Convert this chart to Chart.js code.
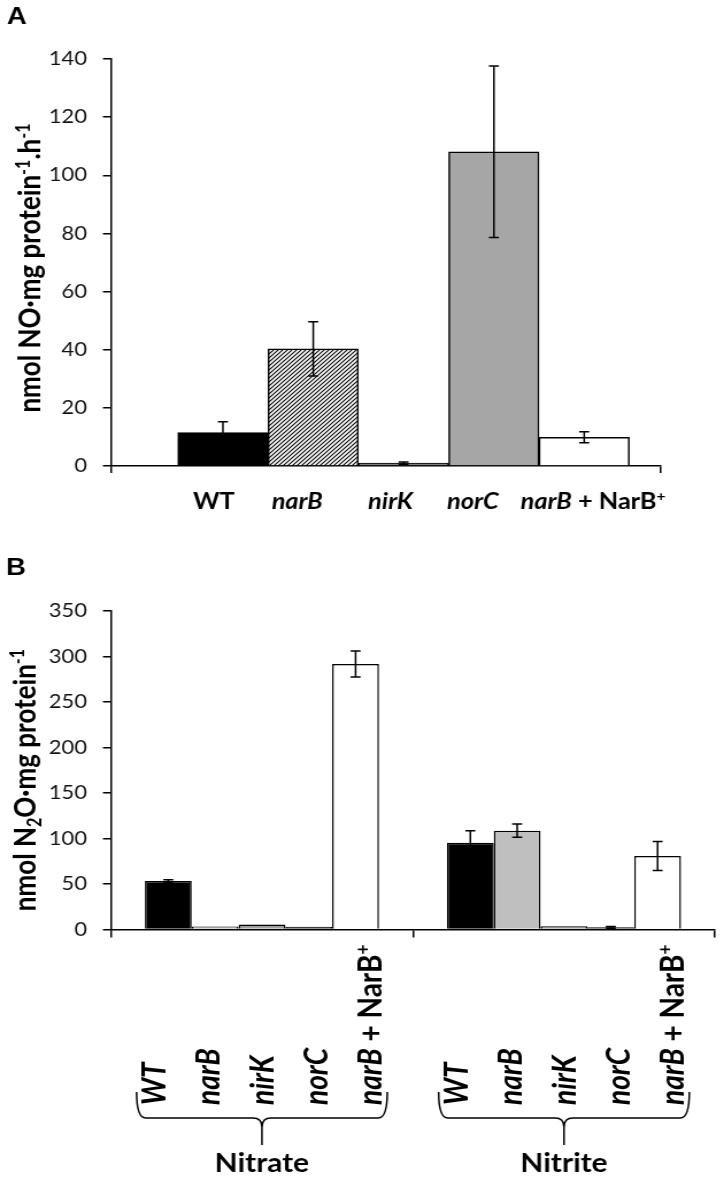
<!DOCTYPE html>
<html><head><meta charset="utf-8">
<script src="https://cdn.jsdelivr.net/npm/chart.js@4.4.0/dist/chart.umd.min.js"></script>
<style>
html,body{margin:0;padding:0;background:#fff;}
#wrap{position:relative;width:724px;height:1177px;overflow:hidden;background:#fff;}
canvas{position:absolute;left:0;}
</style></head><body>
<div id="wrap">
<canvas id="cA" style="top:0;width:724px;height:540px"></canvas>
<canvas id="cB" style="top:540px;width:724px;height:637px"></canvas>
</div>
<script>
// ---------------- data ----------------
// Panel A: NO production
const strainsA = ['WT', 'narB', 'nirK', 'norC', 'narB + NarB+'];
const noRate   = [11.5, 40.3, 1.0, 108.1, 9.9];
const noErr    = [3.7, 9.3, 0.4, 29.5, 1.9];
const yTicksA  = [0, 20, 40, 60, 80, 100, 120, 140];

// Panel B: N2O production
const substrates = ['Nitrate', 'Nitrite'];
const strainsB   = ['WT', 'narB', 'nirK', 'norC', 'narB + NarB+'];
const n2oWT    = [53.3, 95.4];
const n2oNarB  = [3.3, 108.6];
const n2oNirK  = [5.5, 3.5];
const n2oNorC  = [3.0, 2.4];
const n2oComp  = [291.8, 80.8];
const errWT    = [1.5, 13.2];
const errNarB  = [0, 7.3];
const errNirK  = [0, 0];
const errNorC  = [0, 1.0];
const errComp  = [14.2, 16.0];
const yTicksB  = [0, 50, 100, 150, 200, 250, 300, 350];

// ---------------- setup ----------------
const S = 1.15;               // horizontal stretch of the reference figure
const FONT = 'Lato';
const W = Math.round(724 / S);
const labelShiftA = [-9, -16, -13, -21, 9];   // text-box offsets of the panel A labels (px)

const cA = document.getElementById('cA');
const cB = document.getElementById('cB');
cA.width = W; cA.height = 540;
cB.width = W; cB.height = 637;

function drawRuns(ctx, runs, x, y, size, align) {
  let total = 0;
  const info = runs.map(r => {
    const s = (r.sup || r.sub) ? size * 0.62 : size;
    const f = (r.it ? 'italic ' : '') + 'bold ' + s + 'px ' + FONT;
    ctx.font = f;
    const w = ctx.measureText(r.t).width;
    total += w;
    return { f, w, dy: r.sup ? -size * 0.38 : (r.sub ? size * 0.2 : 0) };
  });
  let cx = align === 'center' ? x - total / 2 : x;
  ctx.textAlign = 'left';
  ctx.textBaseline = 'alphabetic';
  runs.forEach((r, i) => {
    ctx.font = info[i].f;
    ctx.fillText(r.t, cx, y + info[i].dy);
    cx += info[i].w;
  });
}
function labelRuns(lbl, italicWT) {
  const m = lbl.match(/^(\S+) \+ (\S+)\+$/);
  if (m) return [{ t: m[1], it: true }, { t: ' + ' + m[2] }, { t: '+', sup: true }];
  return [{ t: lbl, it: lbl !== 'WT' || italicWT }];
}
function hatchPattern(ctx) {
  const c = document.createElement('canvas');
  c.width = 4; c.height = 4;
  const g = c.getContext('2d');
  g.fillStyle = '#fff'; g.fillRect(0, 0, 4, 4);
  g.strokeStyle = '#000'; g.lineWidth = 1.1;
  g.beginPath();
  g.moveTo(-1, 5); g.lineTo(5, -1);
  g.moveTo(-1, 1); g.lineTo(1, -1);
  g.moveTo(3, 5); g.lineTo(5, 3);
  g.stroke();
  return ctx.createPattern(c, 'repeat');
}

const errorBars = {
  id: 'errorBars',
  afterDatasetsDraw(chart) {
    const ctx = chart.ctx, ys = chart.scales.y;
    ctx.save();
    ctx.strokeStyle = '#000'; ctx.lineWidth = 1.5;
    chart.data.datasets.forEach((ds, di) => {
      const meta = chart.getDatasetMeta(di);
      (ds.errors || []).forEach((e, i) => {
        if (!e) return;
        const d = ds.data[i];
        const v = (typeof d === 'object') ? d.y : d;
        const bar = meta.data[i];
        const yt = ys.getPixelForValue(v + e), yb = ys.getPixelForValue(v - e);
        const cw = 5 / S;
        ctx.beginPath();
        ctx.moveTo(bar.x, yt); ctx.lineTo(bar.x, yb);
        ctx.moveTo(bar.x - cw, yt); ctx.lineTo(bar.x + cw, yt);
        ctx.moveTo(bar.x - cw, yb); ctx.lineTo(bar.x + cw, yb);
        ctx.stroke();
      });
    });
    ctx.restore();
  }
};

// ---------------- panel A ----------------
const textA = {
  id: 'textA',
  afterDraw(chart) {
    const ctx = chart.ctx;
    ctx.save();
    ctx.fillStyle = '#000';
    ctx.font = 'bold 24px Arial, sans-serif';
    ctx.textAlign = 'left'; ctx.textBaseline = 'alphabetic';
    ctx.fillText('A', 7 / S, 24);
    // y title
    ctx.save();
    ctx.translate(30 / S, 268);
    ctx.rotate(-Math.PI / 2);
    drawRuns(ctx, [{ t: 'nmol NO·mg protein' }, { t: '-1', sup: true }, { t: '.h' }, { t: '-1', sup: true }], 0, 0.36 * 26, 26, 'center');
    ctx.restore();
    // category labels
    const meta = chart.getDatasetMeta(0);
    strainsA.forEach((lbl, i) => {
      drawRuns(ctx, labelRuns(lbl, false), meta.data[i].x + labelShiftA[i] / S, 509, 22, 'center');
    });
    ctx.restore();
  }
};

new Chart(cA, {
  type: 'bar',
  data: {
    datasets: [{
      label: 'NO',
      data: noRate.map((v, i) => ({ x: i + 0.5, y: v })),
      errors: noErr,
      backgroundColor: ['#000000', hatchPattern(cA.getContext('2d')), '#7f7f7f', '#a6a6a6', '#ffffff'],
      borderColor: '#000', borderWidth: 1.5,
      barPercentage: 1, categoryPercentage: 1
    }]
  },
  options: {
    responsive: false, devicePixelRatio: 1, animation: false,
    layout: { padding: { top: 59, right: (724 - 660) / S, bottom: 0, left: 0 } },
    plugins: { legend: { display: false }, tooltip: { enabled: false } },
    scales: {
      x: {
        type: 'linear', min: -0.74, max: 5.34, offset: false,
        grid: { display: true, offset: false, drawOnChartArea: false, drawTicks: true, tickLength: 7, color: '#000', lineWidth: 1.5 },
        border: { display: true, color: '#000', width: 1.5 },
        ticks: { display: false },
        afterBuildTicks: s => { s.ticks = [{ value: s.min }, { value: s.max }]; },
        afterFit: s => { s.height = 540 - 466; }
      },
      y: {
        min: 0, max: 140,
        grid: { drawOnChartArea: false, tickLength: 8 / S, color: '#000', lineWidth: 1.5 },
        border: { display: true, color: '#000', width: 1.5 },
        ticks: { font: { family: FONT, size: 19 }, color: '#111', padding: 16 / S },
        afterBuildTicks: s => { s.ticks = yTicksA.map(v => ({ value: v })); },
        afterFit: s => { s.width = 111 / S; }
      }
    }
  },
  plugins: [errorBars, textA]
});

// ---------------- panel B ----------------
const textB = {
  id: 'textB',
  afterDraw(chart) {
    const ctx = chart.ctx, xs = chart.scales.x;
    ctx.save();
    ctx.fillStyle = '#000'; ctx.strokeStyle = '#000';
    ctx.font = 'bold 24px Arial, sans-serif';
    ctx.textAlign = 'left'; ctx.textBaseline = 'alphabetic';
    ctx.fillText('B', 6 / S, 35);
    // y title
    ctx.save();
    ctx.translate(25 / S, 240);
    ctx.rotate(-Math.PI / 2);
    drawRuns(ctx, [{ t: 'nmol N' }, { t: '2', sub: true }, { t: 'O·mg protein' }, { t: '-1', sup: true }], 0, 0.36 * 26, 26, 'center');
    ctx.restore();
    const catW = xs.width / substrates.length;
    substrates.forEach((sub, ci) => {
      const cx = xs.getPixelForValue(ci);
      const sp = 0.179 * catW;
      strainsB.forEach((lbl, j) => {
        ctx.save();
        ctx.translate(cx + (j - 2) * sp, 565);
        ctx.rotate(-Math.PI / 2);
        drawRuns(ctx, labelRuns(lbl, true), 0, 0.36 * 28, 28, 'left');
        ctx.restore();
      });
      // curly brace
      const hw = 0.83 * catW / 2, r = 9 / S;
      const yT = 552, yH = 578, yTip = 605;
      ctx.lineWidth = 1.5;
      ctx.beginPath();
      ctx.moveTo(cx - hw, yT);
      ctx.quadraticCurveTo(cx - hw, yH, cx - hw + r, yH);
      ctx.lineTo(cx - r, yH);
      ctx.quadraticCurveTo(cx, yH, cx, yH + 9);
      ctx.lineTo(cx, yTip);
      ctx.moveTo(cx + hw, yT);
      ctx.quadraticCurveTo(cx + hw, yH, cx + hw - r, yH);
      ctx.lineTo(cx + r, yH);
      ctx.quadraticCurveTo(cx, yH, cx, yH + 9);
      ctx.stroke();
      ctx.font = 'bold 26px ' + FONT;
      ctx.textAlign = 'center';
      ctx.fillText(sub, cx, 632);
    });
    ctx.restore();
  }
};

const dsB = (i, data, errs, color) => ({
  label: strainsB[i], data, errors: errs, backgroundColor: color,
  borderColor: '#000', borderWidth: 1.5, barPercentage: 1, categoryPercentage: 0.775
});

new Chart(cB, {
  type: 'bar',
  data: {
    labels: substrates,
    datasets: [
      dsB(0, n2oWT, errWT, '#000000'),
      dsB(1, n2oNarB, errNarB, '#bfbfbf'),
      dsB(2, n2oNirK, errNirK, '#a0a0a0'),
      dsB(3, n2oNorC, errNorC, '#404040'),
      dsB(4, n2oComp, errComp, '#ffffff')
    ]
  },
  options: {
    responsive: false, devicePixelRatio: 1, animation: false,
    layout: { padding: { top: 71, right: (724 - 715) / S, bottom: 0, left: 0 } },
    plugins: { legend: { display: false }, tooltip: { enabled: false } },
    scales: {
      x: {
        type: 'category', offset: true,
        grid: { display: true, offset: true, drawOnChartArea: false, drawTicks: true, tickLength: 8, color: '#000', lineWidth: 1.5 },
        border: { display: true, color: '#000', width: 1.5 },
        ticks: { display: false },
        afterFit: s => { s.height = 637 - 389.5; }
      },
      y: {
        min: 0, max: 350,
        grid: { drawOnChartArea: false, tickLength: 8 / S, color: '#000', lineWidth: 1.5 },
        border: { display: true, color: '#000', width: 1.5 },
        ticks: { font: { family: FONT, size: 19 }, color: '#111', padding: 16 / S },
        afterBuildTicks: s => { s.ticks = yTicksB.map(v => ({ value: v })); },
        afterFit: s => { s.width = 111 / S; }
      }
    }
  },
  plugins: [errorBars, textB]
});
</script>
</body></html>
